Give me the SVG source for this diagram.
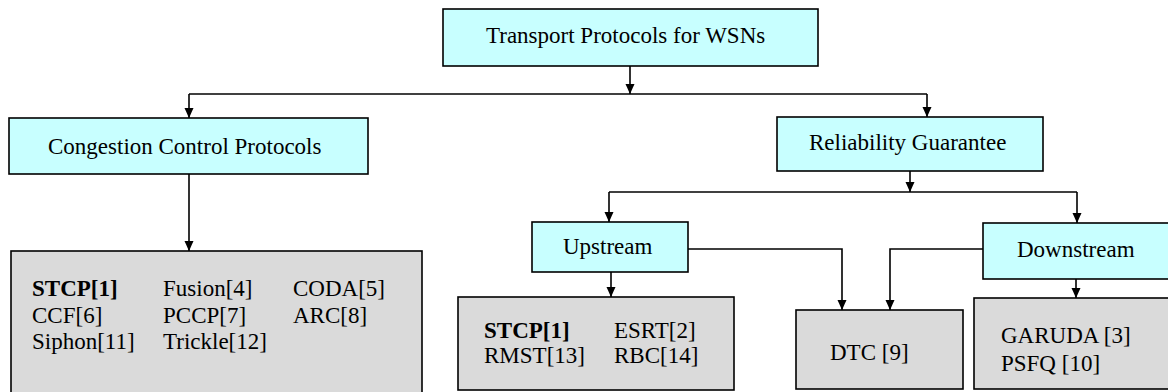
<svg xmlns="http://www.w3.org/2000/svg" width="1168" height="392" viewBox="0 0 1168 392">
<defs>
<marker id="arr" viewBox="0 0 10 10" refX="10" refY="5" markerWidth="10" markerHeight="10" markerUnits="userSpaceOnUse" orient="auto">
<path d="M0,0.5 L10,5 L0,9.5 Z" fill="#000"/>
</marker>
<style>
.hdr{fill:#c8ffff;stroke:#000;stroke-width:1.6}
.lst{fill:#dadada;stroke:#000;stroke-width:1.6}
text{font-family:"Liberation Serif","Times New Roman",serif;font-size:23px;fill:#000}
.b{font-weight:bold}
.c{fill:none;stroke:#000;stroke-width:1.6}
.a{marker-end:url(#arr)}
</style>
</defs>
<rect width="1168" height="392" fill="#fff"/>
<g id="connectors">
<path class="c a" d="M630,66 V94"/>
<path class="c" d="M189,94 H927"/>
<path class="c a" d="M189,94 V118"/>
<path class="c a" d="M927,94 V117"/>
<path class="c a" d="M189,174 V251"/>
<path class="c a" d="M910,171 V192"/>
<path class="c" d="M609,192 H1077"/>
<path class="c a" d="M609,192 V222"/>
<path class="c a" d="M1077,192 V223"/>
<path class="c a" d="M611,272 V297"/>
<path class="c a" d="M688,249 H842 V310"/>
<path class="c a" d="M1076,279 V298"/>
<path class="c a" d="M983,249 H890 V310"/>
</g>
<g id="root">
<rect class="hdr" x="443" y="9" width="375" height="57"/>
<text x="486" y="43">Transport Protocols for WSNs</text>
</g>
<g id="congestion">
<rect class="hdr" x="9" y="118" width="359" height="56"/>
<text x="48" y="154">Congestion Control Protocols</text>
</g>
<g id="reliability">
<rect class="hdr" x="777" y="117" width="266" height="54"/>
<text x="809" y="150">Reliability Guarantee</text>
</g>
<g id="upstream">
<rect class="hdr" x="532" y="222" width="156" height="50"/>
<text x="563" y="254">Upstream</text>
</g>
<g id="downstream">
<rect class="hdr" x="983" y="223" width="186" height="56"/>
<text x="1017" y="257">Downstream</text>
</g>
<g id="congestion-list">
<rect class="lst" x="11" y="251" width="411" height="142"/>
<text x="32" y="296" class="b">STCP[1]</text>
<text x="163" y="296">Fusion[4]</text>
<text x="293" y="296">CODA[5]</text>
<text x="32" y="323">CCF[6]</text>
<text x="163" y="323">PCCP[7]</text>
<text x="293" y="323">ARC[8]</text>
<text x="32" y="349">Siphon[11]</text>
<text x="163" y="349">Trickle[12]</text>
</g>
<g id="upstream-list">
<rect class="lst" x="458" y="297" width="276" height="93"/>
<text x="484" y="338" class="b">STCP[1]</text>
<text x="614" y="338">ESRT[2]</text>
<text x="484" y="363">RMST[13]</text>
<text x="614" y="363">RBC[14]</text>
</g>
<g id="dtc">
<rect class="lst" x="796" y="310" width="167" height="79"/>
<text x="830" y="360">DTC [9]</text>
</g>
<g id="downstream-list">
<rect class="lst" x="974" y="298" width="195" height="91"/>
<text x="1001" y="343">GARUDA [3]</text>
<text x="1001" y="371">PSFQ [10]</text>
</g>
</svg>
